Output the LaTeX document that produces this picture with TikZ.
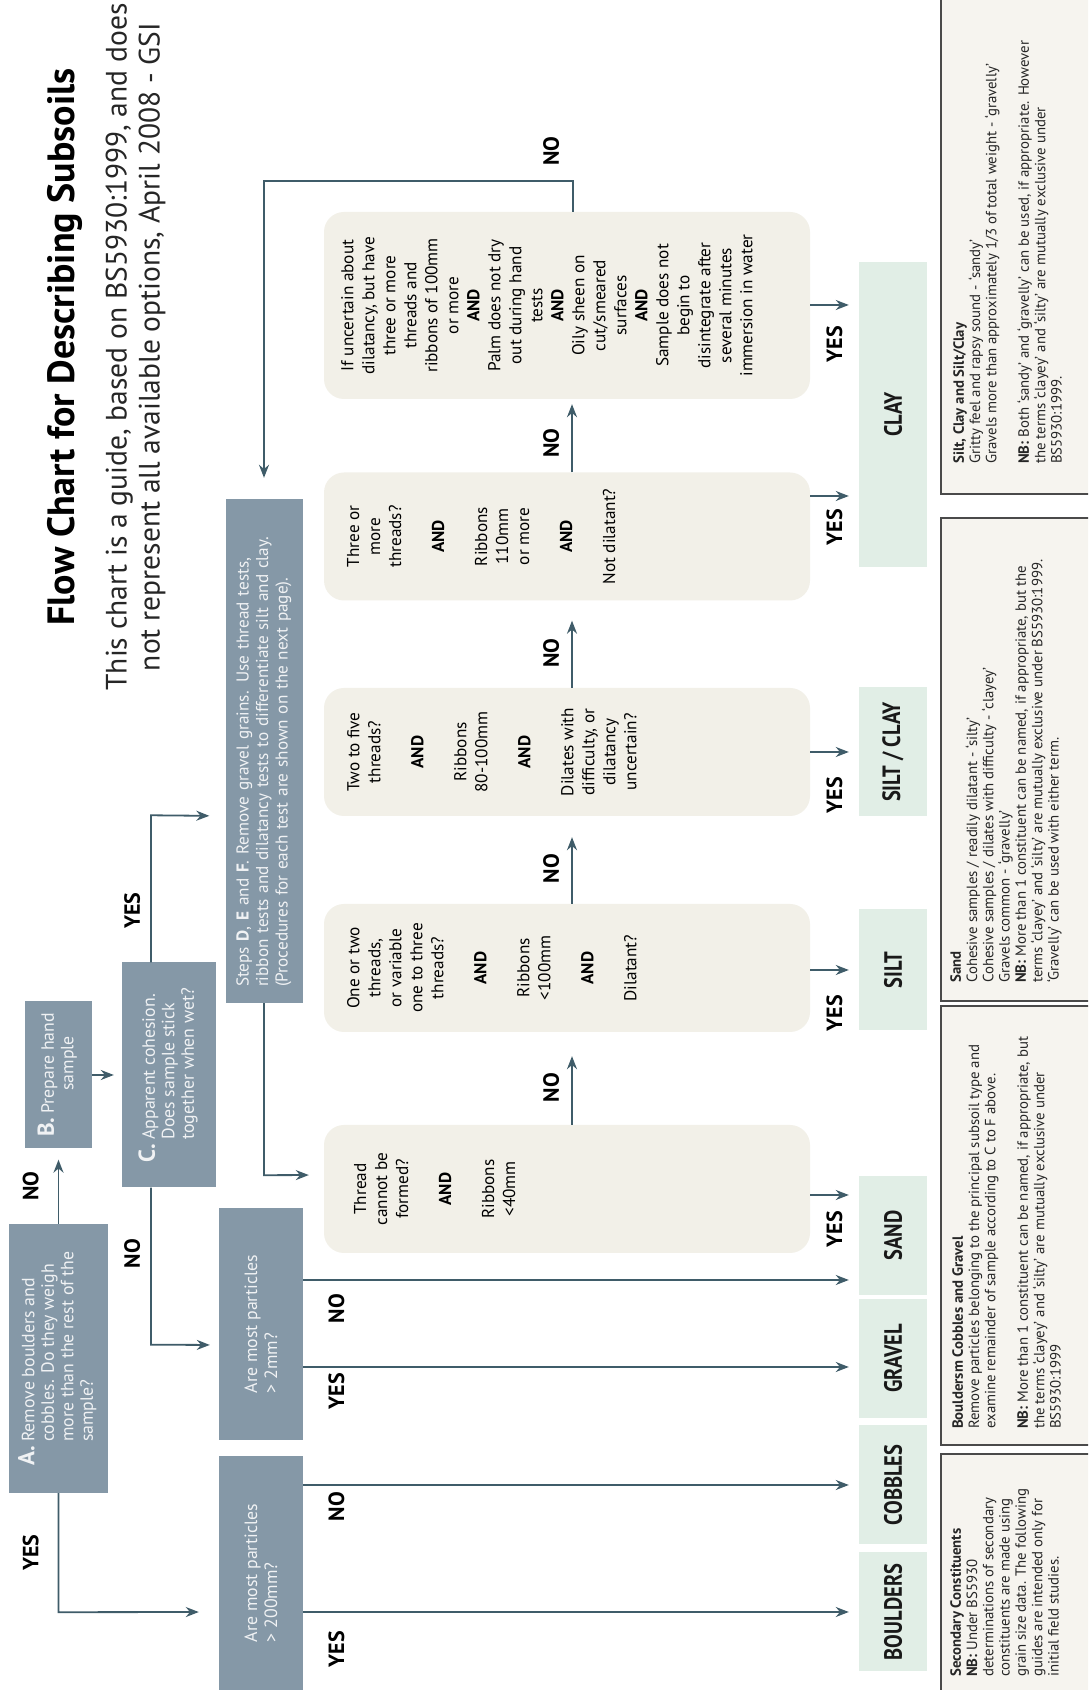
\documentclass[tikz,border=0pt]{standalone}
\usepackage{fontspec}
\setmainfont{PT Sans}
\newfontfamily\narrowfont{PT Sans}[FakeStretch=0.82]
\usetikzlibrary{positioning,arrows.meta}

\definecolor{slate}{HTML}{8598A7}
\definecolor{linkcol}{HTML}{3F5C69}
\definecolor{cream}{HTML}{F2F0E8}
\definecolor{mint}{HTML}{E1EEE6}
\definecolor{notefill}{HTML}{F6F4EF}
\definecolor{noteline}{HTML}{4A4A4A}
\definecolor{paletext}{HTML}{F0F2F4}

\tikzset{
  darkbox/.style={fill=slate, text=paletext, inner sep=0pt},
  testbox/.style={fill=cream, rounded corners=20pt, minimum width=128pt, minimum height=486pt},
  testtxt/.style={anchor=north, align=center, inner sep=0pt, font=\fontsize{17.2}{21}\selectfont},
  soilbox/.style={fill=mint, minimum height=68pt, text=black!90, font=\narrowfont\bfseries\fontsize{25}{25}\selectfont},
  notebox/.style={fill=notefill, draw=noteline, line width=1.5pt, minimum height=159pt},
  notetxt/.style={anchor=north west, align=left, inner sep=0pt, text=black!85, font=\fontsize{14.8}{16.3}\selectfont},
  lbl/.style={font=\bfseries\fontsize{22}{22}\selectfont, inner sep=0pt},
  arr/.style={draw=linkcol, line width=1.8pt, -{Stealth[length=13pt,width=10pt]}},
}

\begin{document}
\begin{tikzpicture}[x=1pt, y=1pt, rotate=90, transform shape]
  \useasboundingbox (0,-1088) rectangle (1690,0);
  \clip (0,-1088) rectangle (1690,0);
  \fill[white] (0,-1088) rectangle (1690,0);

  %Title
  \node[font=\bfseries\fontsize{38}{44}\selectfont] (title) at (1343,-65) {Flow Chart for Describing Subsoils};
  \node[align=center, text=black!85, font=\fontsize{29.5}{33}\selectfont] (subtitle) at (1343,-135.5)
    {This chart is a guide, based on BS5930:1999, and does\\not represent all available options, April 2008 - GSI};

  %Grey boxes
  \node[darkbox, minimum width=269pt, minimum height=99pt, font=\fontsize{17.8}{19.5}\selectfont] (A) at (331.5,-58.5)
    {\begin{tabular}{@{}l@{\hspace{4pt}}l@{}}{\fontsize{23}{19.5}\selectfont\bfseries A.} & Remove boulders and\\ & cobbles. Do they weigh\\ & more than the rest of the\\ & sample?\end{tabular}};
  \node[darkbox, minimum width=147pt, minimum height=67pt, font=\fontsize{17.8}{19.5}\selectfont] (B) at (615,-58.5)
    {\begin{tabular}{@{}l@{\hspace{4pt}}c@{}}{\fontsize{23}{19.5}\selectfont\bfseries B.} & Prepare hand\\ & sample\end{tabular}};
  \node[darkbox, minimum width=225pt, minimum height=94pt, font=\fontsize{17.8}{19.5}\selectfont] (C) at (615,-169)
    {\begin{tabular}{@{}l@{\hspace{4pt}}l@{}}{\fontsize{23}{19.5}\selectfont\bfseries C.} & Apparent cohesion.\\ & Does sample stick\\ & together when wet?\end{tabular}};
  \node[darkbox, minimum width=504pt, minimum height=77pt, text width=472pt, align=left, font=\fontsize{17.2}{19.5}\selectfont] (steps) at (939,-264)
    {Steps \textbf{D}, \textbf{E} and \textbf{F}. Remove gravel grains. Use thread tests,\\ribbon tests and dilatancy tests to differentiate silt and clay.\\(Procedures for each test are shown on the next page).};
  \node[darkbox, minimum width=232pt, minimum height=84pt, align=left, font=\fontsize{17.8}{20}\selectfont] (mid) at (366,-261)
    {Are most particles\\> 2mm?};
  \node[darkbox, minimum width=234pt, minimum height=84pt, align=left, font=\fontsize{17.8}{20}\selectfont] (big) at (117,-261)
    {Are most particles\\> 200mm?};

  %Test boxes
  \node[testbox] (t1) at (501,-567) {};
  \node[testbox] (t2) at (722,-567) {};
  \node[testbox] (t3) at (938,-567) {};
  \node[testbox] (t4) at (1153.5,-567) {};
  \node[testbox, minimum width=187pt] (t5) at (1384.5,-567) {};
  \node[testtxt] (t1txt) at (501,-354) {Thread\\cannot be\\formed?\\[22pt]\textbf{AND}\\[22pt]Ribbons\\<40mm};
  \node[testtxt] (t2txt) at (722,-347) {One or two\\threads,\\or variable\\one to three\\threads?\\[22pt]\textbf{AND}\\[22pt]Ribbons\\<100mm\\[22pt]\textbf{AND}\\[22pt]Dilatant?};
  \node[testtxt] (t3txt) at (938,-347) {Two to five\\threads?\\[22pt]\textbf{AND}\\[22pt]Ribbons\\80-100mm\\[22pt]\textbf{AND}\\[22pt]Dilates with\\difficulty, or\\dilatancy\\uncertain?};
  \node[testtxt] (t4txt) at (1153.5,-347) {Three or\\more\\threads?\\[22pt]\textbf{AND}\\[22pt]Ribbons\\110mm\\or more\\[22pt]\textbf{AND}\\[22pt]Not dilatant?};
  \node[testtxt] (t5txt) at (1384.5,-341) {If uncertain about\\dilatancy, but have\\three or more\\threads and\\ribbons of 100mm\\or more\\\textbf{AND}\\Palm does not dry\\out during hand\\tests\\\textbf{AND}\\Oily sheen on\\cut/smeared\\surfaces\\\textbf{AND}\\Sample does not\\begin to\\disintegrate after\\several minutes\\immersion in water};

  %Soil types
  \node[soilbox, minimum width=305pt] (clay) at (1275.5,-893) {CLAY};
  \node[soilbox, minimum width=129pt] (siltclay) at (938,-893) {SILT / CLAY};
  \node[soilbox, minimum width=121pt] (silt) at (720,-893) {SILT};
  \node[soilbox, minimum width=119pt] (sand) at (454.5,-893) {SAND};
  \node[soilbox, minimum width=119pt] (gravel) at (331.5,-893) {GRAVEL};
  \node[soilbox, minimum width=119pt] (cobbles) at (205,-893) {COBBLES};
  \node[soilbox, minimum width=119pt] (boulders) at (78,-893) {BOULDERS};

  %Notes
  \node[notebox, minimum width=504pt] (n1) at (1448,-1020.5) {};
  \node[notebox, minimum width=483pt] (n2) at (930.5,-1020.5) {};
  \node[notebox, minimum width=439pt] (n3) at (464.5,-1020.5) {};
  \node[notebox, minimum width=246pt] (n4) at (113,-1020.5) {};
  \node[notetxt] (n1txt) at (1226,-953) {\textbf{Silt, Clay and Silt/Clay}\\Gritty feel and rapsy sound - ‘sandy’\\Gravels more than approximately 1/3 of total weight - ‘gravelly’\\[16.3pt]\textbf{NB:} Both ‘sandy’ and ‘gravelly’ can be used, if appropriate. However\\the terms ‘clayey’ and ‘silty’ are mutually exclusive under\\BS5930:1999.};
  \node[notetxt] (n2txt) at (707,-950) {\textbf{Sand}\\Cohesive samples / readily dilatant - ‘silty’\\Cohesive samples / dilates with difficulty - ‘clayey’\\Gravels common - ‘gravelly’\\\textbf{NB:} More than 1 constituent can be named, if appropriate, but the\\terms ‘clayey’ and ‘silty’ are mutually exclusive under BS5930:1999.\\‘Gravelly’ can be used with either term.};
  \node[notetxt] (n3txt) at (261,-952) {\textbf{Bouldersm Cobbles and Gravel}\\Remove particles belonging to the principal subsoil type and\\examine remainder of sample according to C to F above.\\[16.3pt]\textbf{NB:} More than 1 constituent can be named, if appropriate, but\\the terms ‘clayey’ and ‘silty’ are mutually exclusive under\\BS5930:1999};
  \node[notetxt] (n4txt) at (13,-950) {\textbf{Secondary Constituents}\\\textbf{NB:} Under BS5930\\determinations of secondary\\constituents are made using\\grain size data. The following\\guides are intended only for\\initial field studies.};

  %Arrows
  \draw[arr, shorten >=11pt] (A.east) -- (B.west) node[lbl, midway, above=19pt] {NO};
  \draw[arr, shorten >=20pt] (A.west) -- ++(-119,0) node[lbl, midway, above=19pt] {YES} -- ([xshift=-39pt]big.north);
  \draw[arr, shorten >=8pt] (B.south) -- (C.north);
  \draw[arr, shorten >=16pt] ([yshift=18pt]C.east) -- ++(147,0) node[lbl, pos=0.35, above=10pt] {YES} -- ([xshift=-65pt]steps.north);
  \draw[arr, shorten >=9pt] ([yshift=18pt]C.west) -- ++(-157,0) node[lbl, pos=0.42, above=10pt] {NO} -- ([xshift=-21pt]mid.north);
  \draw[arr, shorten >=15pt] (steps.west) -- ++(-172,0) -- ([xshift=14pt]t1.north);

  \draw[arr, shorten >=10pt] ([xshift=-39pt]big.south) -- (boulders.north) node[lbl, pos=0.06, left=18pt] {YES};
  \draw[arr, shorten >=10pt] ([xshift=88pt]big.south) -- (cobbles.north) node[lbl, pos=0.06, left=6pt] {NO};
  \draw[arr, shorten >=10pt] ([xshift=-43pt]mid.south) -- ([xshift=-8.5pt]gravel.north) node[lbl, pos=0.06, left=5pt] {YES};
  \draw[arr, shorten >=10pt] ([xshift=44pt]mid.south) -- ([xshift=-44.5pt]sand.north) node[lbl, pos=0.06, left=13pt] {NO};

  \draw[arr, shorten >=24pt] ([yshift=-5pt]t1.east) -- ([yshift=-5pt]t2.west) node[lbl, pos=0.4, above=12pt] {NO};
  \draw[arr, shorten >=21pt] ([yshift=-5pt]t2.east) -- ([yshift=-5pt]t3.west) node[lbl, pos=0.4, above=12pt] {NO};
  \draw[arr, shorten >=20pt] ([yshift=-5pt]t3.east) -- ([yshift=-5pt]t4.west) node[lbl, pos=0.4, above=12pt] {NO};
  \draw[arr, shorten >=5pt] ([yshift=-5pt]t4.east) -- ([yshift=-5pt]t5.west) node[lbl, pos=0.4, above=12pt] {NO};
  \draw[arr, shorten >=21pt] ([yshift=-6pt]t5.east) -- ++(31,0) node[lbl, above right=13pt and 14pt] {NO} -- ++(0,309) -- (steps.east);

  \draw[arr, shorten >=10pt] ([xshift=-6pt]t1.south) -- ([xshift=40.5pt]sand.north) node[lbl, pos=0.5, left=15pt] {YES};
  \draw[arr, shorten >=10pt] ([xshift=-2pt]t2.south) -- (silt.north) node[lbl, pos=0.5, left=24pt] {YES};
  \draw[arr, shorten >=10pt] (t3.south) -- (siltclay.north) node[lbl, pos=0.5, left=24pt] {YES};
  \draw[arr, shorten >=10pt] ([xshift=40.5pt]t4.south) -- ([xshift=-81.5pt]clay.north) node[lbl, pos=0.5, left=12pt] {YES};
  \draw[arr, shorten >=10pt] ([xshift=0.5pt]t5.south) -- ([xshift=109.5pt]clay.north) node[lbl, pos=0.5, left=20pt] {YES};
\end{tikzpicture}
\end{document}
